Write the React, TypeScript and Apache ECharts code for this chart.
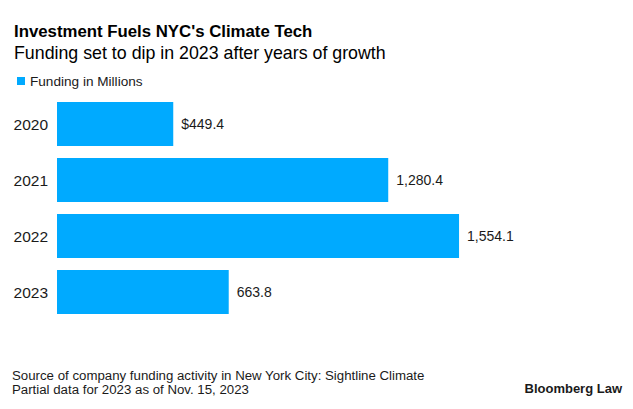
import React, { useEffect, useRef } from "react";
import * as echarts from "echarts";

const categories = ["2020", "2021", "2022", "2023"];
const funding = [449.4, 1280.4, 1554.1, 663.8];
const seriesName = "Funding in Millions";
const titleText = "Investment Fuels NYC's Climate Tech";
const subtitleText = "Funding set to dip in 2023 after years of growth";
const sourceLines = [
  "Source of company funding activity in New York City: Sightline Climate",
  "Partial data for 2023 as of Nov. 15, 2023",
];
const brandText = "Bloomberg Law";

const FONT = "'Liberation Sans', Arial, Helvetica, sans-serif";
const BLUE = "#00AAFF";
const INK = "#1a1a1a";

function fmt(v: number, i: number): string {
  const s = v.toLocaleString("en-US", { minimumFractionDigits: 1, maximumFractionDigits: 1 });
  return i === 0 ? "$" + s : s;
}

export default function App() {
  const ref = useRef<HTMLDivElement>(null);
  useEffect(() => {
    document.body.style.margin = "0";
    if (!ref.current) return;
    const chart = echarts.init(ref.current, undefined, { renderer: "svg" });
    chart.setOption({
      animation: false,
      backgroundColor: "#ffffff",
      textStyle: { fontFamily: FONT },
      grid: { left: 57, right: 58.6, top: 96, height: 224, containLabel: false },
      legend: {
        data: [seriesName],
        left: 12,
        top: 69,
        icon: "rect",
        itemWidth: 8,
        itemHeight: 8,
        itemGap: 6,
        textStyle: { fontSize: 13.6, color: INK, fontFamily: FONT },
        selectedMode: false,
      },
      xAxis: {
        type: "value",
        min: 0,
        max: 2000,
        show: false,
        splitLine: { show: false },
      },
      yAxis: {
        type: "category",
        data: categories,
        inverse: true,
        axisLine: { show: false },
        axisTick: { show: false },
        axisLabel: { fontSize: 15.5, color: INK, margin: 9, fontFamily: FONT },
      },
      series: [
        {
          name: seriesName,
          type: "bar",
          data: funding,
          barCategoryGap: "21%",
          itemStyle: { color: BLUE },
          label: {
            show: true,
            position: "right",
            distance: 8,
            fontSize: 14,
            color: INK,
            fontFamily: FONT,
            formatter: (p: any) => fmt(p.value, p.dataIndex),
          },
        },
      ],
      graphic: [
        {
          type: "text",
          left: 14,
          top: 23,
          style: { text: titleText, font: `bold 16.8px ${FONT}`, fill: "#000" },
        },
        {
          type: "text",
          left: 14,
          top: 43.5,
          style: { text: subtitleText, font: `17.8px ${FONT}`, fill: "#000" },
        },
        {
          type: "text",
          left: 12,
          top: 368,
          style: { text: sourceLines.join("\n"), font: `13.25px ${FONT}`, lineHeight: 14, fill: INK },
        },
        {
          type: "text",
          right: 11,
          top: 382,
          style: { text: brandText, font: `bold 13px ${FONT}`, fill: INK },
        },
      ],
    });
    return () => chart.dispose();
  }, []);
  return <div ref={ref} style={{ width: 633, height: 409 }} />;
}
